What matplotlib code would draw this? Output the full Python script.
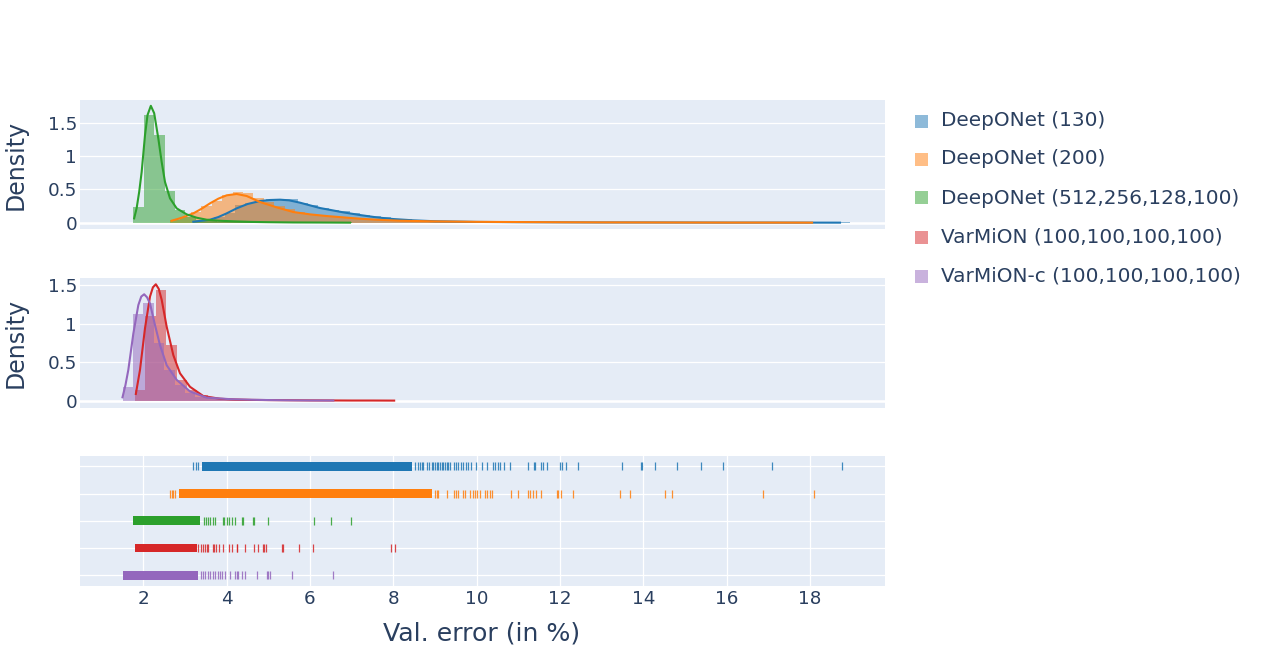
import matplotlib
matplotlib.use('Agg')
import matplotlib.pyplot as plt
from matplotlib.patches import Rectangle
import numpy as np

plt.rcParams['font.family'] = ['DejaVu Sans']

# ---------------- data ----------------
labels = ["DeepONet (130)", "DeepONet (200)", "DeepONet (512,256,128,100)",
          "VarMiON (100,100,100,100)", "VarMiON-c (100,100,100,100)"]
colors = ['#1f77b4', '#ff7f0e', '#2ca02c', '#d62728', '#9467bd']
panel_of = [0, 0, 0, 1, 1]

bin_width = 0.25
hist_start = [3.20, 2.64, 1.76, 1.80, 1.50]

hist_blue = [0.02, 0.04, 0.08, 0.15, 0.26, 0.30, 0.33, 0.35, 0.36, 0.35,
             0.30, 0.26, 0.22, 0.19, 0.17, 0.14, 0.12, 0.10, 0.08, 0.06,
             0.05, 0.035, 0.03, 0.02, 0.02, 0.015, 0.01, 0.01, 0.008, 0.008,
             0.004, 0.0, 0.004, 0.012, 0.0, 0.012, 0.004, 0.0, 0.0, 0.0,
             0.0, 0.004, 0.004, 0.008, 0.004, 0.0, 0.004, 0.0, 0.004, 0.0,
             0.004, 0.0, 0.0, 0.0, 0.0, 0.004, 0.0, 0.0, 0.0, 0.0,
             0.0, 0.0, 0.004]
hist_orange = [0.04, 0.08, 0.16, 0.25, 0.33, 0.42, 0.46, 0.44, 0.37, 0.31,
               0.25, 0.20, 0.16, 0.13, 0.11, 0.09, 0.08, 0.07, 0.06, 0.05,
               0.045, 0.04, 0.035, 0.03, 0.03, 0.02, 0.012, 0.012, 0.012, 0.016,
               0.012, 0.004, 0.004, 0.004, 0.012, 0.008, 0.0, 0.012, 0.004, 0.0,
               0.0, 0.0, 0.0, 0.008, 0.0, 0.0, 0.0, 0.004, 0.004, 0.0,
               0.0, 0.0, 0.0, 0.0, 0.0, 0.0, 0.004, 0.0, 0.0, 0.0,
               0.0, 0.004]
hist_green = [0.23, 1.61, 1.31, 0.47, 0.19, 0.08, 0.04, 0.03, 0.012, 0.02,
              0.008, 0.008, 0.004, 0.0, 0.0, 0.0, 0.0, 0.004, 0.0, 0.004, 0.004]
hist_red = [0.14, 1.10, 1.44, 0.72, 0.27, 0.14, 0.07, 0.04, 0.03, 0.02,
            0.012, 0.008, 0.012, 0.0, 0.008, 0.004, 0.004, 0.004, 0.0, 0.0,
            0.0, 0.0, 0.0, 0.0, 0.008]
hist_purple = [0.18, 1.13, 1.27, 0.75, 0.40, 0.20, 0.10, 0.05, 0.04, 0.03,
               0.016, 0.016, 0.004, 0.008, 0.008, 0.0, 0.004, 0.0, 0.0, 0.0, 0.004]
hists = [hist_blue, hist_orange, hist_green, hist_red, hist_purple]

kde_blue_x = [3.20, 3.40, 3.60, 3.80, 4.00, 4.24, 4.50, 4.80, 5.04, 5.28, 5.50,
              5.76, 6.00, 6.24, 6.50, 6.80, 7.20, 7.60, 8.00, 8.50, 9.00, 10.0,
              11.0, 12.0, 13.0, 14.0, 15.0, 16.0, 17.0, 18.72]
kde_blue_y = [0.015, 0.03, 0.045, 0.085, 0.14, 0.215, 0.28, 0.325, 0.34, 0.345, 0.335,
              0.30, 0.26, 0.22, 0.19, 0.155, 0.115, 0.08, 0.055, 0.035, 0.022, 0.012,
              0.008, 0.006, 0.004, 0.004, 0.003, 0.002, 0.002, 0.001]
kde_orange_x = [2.68, 2.90, 3.20, 3.40, 3.60, 3.80, 4.00, 4.24, 4.48, 4.80, 5.20,
                5.60, 6.00, 6.40, 6.80, 7.20, 7.60, 8.16, 9.0, 10.0, 11.0, 12.0,
                13.0, 14.0, 15.0, 16.0, 17.0, 18.05]
kde_orange_y = [0.03, 0.07, 0.14, 0.21, 0.29, 0.36, 0.41, 0.43, 0.40, 0.31, 0.23,
                0.16, 0.125, 0.10, 0.08, 0.06, 0.045, 0.03, 0.02, 0.013, 0.01, 0.007,
                0.005, 0.004, 0.003, 0.002, 0.002, 0.001]
kde_green_x = [1.78, 1.84, 1.90, 1.96, 2.04, 2.10, 2.18, 2.26, 2.36, 2.44, 2.52,
               2.64, 2.80, 3.04, 3.28, 3.52, 3.8, 4.2, 4.6, 5.0, 5.6, 6.2, 6.6, 6.96]
kde_green_y = [0.065, 0.22, 0.46, 0.76, 1.31, 1.61, 1.75, 1.64, 1.26, 0.91, 0.61,
               0.365, 0.215, 0.125, 0.075, 0.045, 0.03, 0.02, 0.012, 0.008, 0.004,
               0.003, 0.002, 0.001]
kde_red_x = [1.82, 1.92, 2.04, 2.16, 2.23, 2.30, 2.37, 2.44, 2.56, 2.72, 2.88, 3.12,
             3.44, 3.84, 4.2, 4.6, 5.0, 5.5, 6.0, 6.5, 7.0, 7.5, 8.02]
kde_red_y = [0.087, 0.40, 0.94, 1.35, 1.47, 1.51, 1.45, 1.31, 0.96, 0.59, 0.355, 0.18,
             0.06, 0.025, 0.015, 0.01, 0.008, 0.006, 0.004, 0.003, 0.002, 0.002, 0.001]
kde_purple_x = [1.50, 1.57, 1.64, 1.76, 1.88, 1.95, 2.02, 2.09, 2.16, 2.28, 2.40,
                2.56, 2.80, 3.12, 3.52, 4.08, 4.6, 5.0, 5.5, 6.0, 6.56]
kde_purple_y = [0.044, 0.20, 0.40, 0.87, 1.24, 1.35, 1.38, 1.34, 1.26, 0.98, 0.72,
                0.46, 0.27, 0.12, 0.04, 0.02, 0.012, 0.008, 0.005, 0.003, 0.002]
kdes = [(kde_blue_x, kde_blue_y), (kde_orange_x, kde_orange_y),
        (kde_green_x, kde_green_y), (kde_red_x, kde_red_y),
        (kde_purple_x, kde_purple_y)]

# rug: dense (solid-looking) stretches and individual ticks
rug_dense_blue = [(3.40, 8.44)]
rug_ticks_blue = [3.20, 3.26, 3.32, 8.52, 8.60, 8.64, 8.68, 8.72, 8.80, 8.86, 8.92,
                  8.96, 9.00, 9.04, 9.08, 9.12, 9.16, 9.20, 9.24, 9.28, 9.32, 9.36,
                  9.46, 9.50, 9.56, 9.62, 9.68, 9.74, 9.80, 9.86, 9.98, 10.12, 10.24,
                  10.40, 10.44, 10.50, 10.56, 10.66, 10.80, 11.24, 11.38, 11.41, 11.54,
                  11.60, 11.68, 12.01, 12.05, 12.14, 12.43, 13.49, 13.94, 13.97, 14.28,
                  14.80, 15.38, 15.92, 17.08, 18.77]
rug_dense_orange = [(2.86, 8.92)]
rug_ticks_orange = [2.64, 2.68, 2.72, 2.76, 9.00, 9.04, 9.08, 9.28, 9.46, 9.50, 9.56,
                    9.68, 9.72, 9.84, 9.90, 9.96, 10.00, 10.08, 10.20, 10.24, 10.32,
                    10.36, 10.82, 10.98, 11.22, 11.28, 11.34, 11.42, 11.54, 11.92,
                    11.96, 12.02, 12.32, 13.45, 13.69, 14.52, 14.70, 16.87, 18.10]
rug_dense_green = [(1.76, 3.36)]
rug_ticks_green = [3.46, 3.50, 3.56, 3.60, 3.68, 3.72, 3.90, 3.94, 4.00, 4.06, 4.12,
                   4.20, 4.36, 4.40, 4.62, 4.66, 5.00, 6.10, 6.50, 6.98]
rug_dense_red = [(1.80, 3.28)]
rug_ticks_red = [3.32, 3.38, 3.42, 3.48, 3.52, 3.56, 3.66, 3.70, 3.74, 3.82, 3.92,
                 4.06, 4.12, 4.24, 4.26, 4.44, 4.66, 4.76, 4.86, 4.90, 4.94, 5.32,
                 5.34, 5.74, 6.06, 7.94, 8.04]
rug_dense_purple = [(1.50, 3.32)]
rug_ticks_purple = [3.38, 3.42, 3.48, 3.54, 3.60, 3.66, 3.72, 3.80, 3.84, 3.88, 3.96,
                    4.08, 4.20, 4.24, 4.28, 4.36, 4.44, 4.72, 4.96, 5.00, 5.04, 5.56,
                    6.56]
rug_dense = [rug_dense_blue, rug_dense_orange, rug_dense_green, rug_dense_red, rug_dense_purple]
rug_ticks = [rug_ticks_blue, rug_ticks_orange, rug_ticks_green, rug_ticks_red, rug_ticks_purple]

x_ticks = [2, 4, 6, 8, 10, 12, 14, 16, 18]
y_ticks = [0, 0.5, 1, 1.5]
y_ticklabels = ['0', '0.5', '1', '1.5']

# ---------------- layout ----------------
W, H = 1264, 666
BG = '#E5ECF6'
TXT = '#2a3f5f'
fig = plt.figure(figsize=(W / 100, H / 100), dpi=100)


def px_axes(x0, y0, x1, y1):
    return fig.add_axes([x0 / W, 1 - y1 / H, (x1 - x0) / W, (y1 - y0) / H])


ax1 = px_axes(80, 100, 885, 229)
ax2 = px_axes(80, 277.7, 885, 407.7)
ax3 = px_axes(80, 456, 885, 585.7)
axes = [ax1, ax2, ax3]
XLIM = (0.48, 19.8)

for ax in axes:
    ax.set_facecolor(BG)
    for s in ax.spines.values():
        s.set_visible(False)
    ax.set_xlim(*XLIM)
    ax.tick_params(length=0, labelsize=13.2, labelcolor=TXT)
    ax.set_axisbelow(True)

for ax, yl in [(ax1, (-0.094, 1.837)), (ax2, (-0.091, 1.595))]:
    ax.set_ylim(*yl)
    ax.set_yticks(y_ticks)
    ax.set_yticklabels(y_ticklabels)
    ax.set_xticks([])
    ax.grid(axis='y', color='white', linewidth=0.9)
    ax.axhline(0, color='white', linewidth=1.8, zorder=0.6)
    ax.tick_params(axis='y', pad=2)

# histograms
for i in range(5):
    ax = axes[panel_of[i]]
    h = hists[i]
    lefts = hist_start[i] + bin_width * np.arange(len(h))
    ax.bar(lefts, h, width=bin_width, align='edge', color=colors[i], alpha=0.5,
           linewidth=0, zorder=2)
# curves
for i in range(5):
    ax = axes[panel_of[i]]
    kx, ky = kdes[i]
    ax.plot(kx, ky, color=colors[i], linewidth=1.5, zorder=3, solid_joinstyle='round')

# rug
ax3.set_ylim(4.38, -0.38)
ax3.set_yticks(range(5))
ax3.set_yticklabels([''] * 5)
ax3.set_xticks(x_ticks)
ax3.set_xticklabels([str(t) for t in x_ticks])
ax3.grid(True, color='white', linewidth=0.9)
ax3.tick_params(axis='x', pad=3)
for i in range(5):
    spans = [(a, b - a) for a, b in rug_dense[i]]
    ax3.broken_barh(spans, (i - 0.16, 0.32), facecolors=colors[i], linewidth=0, zorder=2)
    ax3.plot(rug_ticks[i], [i] * len(rug_ticks[i]), linestyle='none', marker='|',
             markersize=6.3, markeredgewidth=0.9, color=colors[i], alpha=0.85, zorder=2)

# axis titles
fig.text(16 / W, 1 - 164.5 / H, 'Density', rotation=90, ha='center', va='center',
         fontsize=17, color=TXT)
fig.text(16 / W, 1 - 342.7 / H, 'Density', rotation=90, ha='center', va='center',
         fontsize=17, color=TXT)
fig.text(482 / W, 1 - 633 / H, 'Val. error (in %)', ha='center', va='center',
         fontsize=18.2, color=TXT)

# legend
leg_y = [121, 159, 198, 237, 276]
for i in range(5):
    yc = leg_y[i]
    fig.add_artist(Rectangle((915 / W, 1 - (yc + 6.5) / H), 13 / W, 13 / H,
                             transform=fig.transFigure, facecolor=colors[i],
                             alpha=0.5, linewidth=0))
    fig.text(941 / W, 1 - yc / H, labels[i], ha='left', va='center',
             fontsize=14.4, color=TXT)

fig.savefig('out.png', dpi=100)
